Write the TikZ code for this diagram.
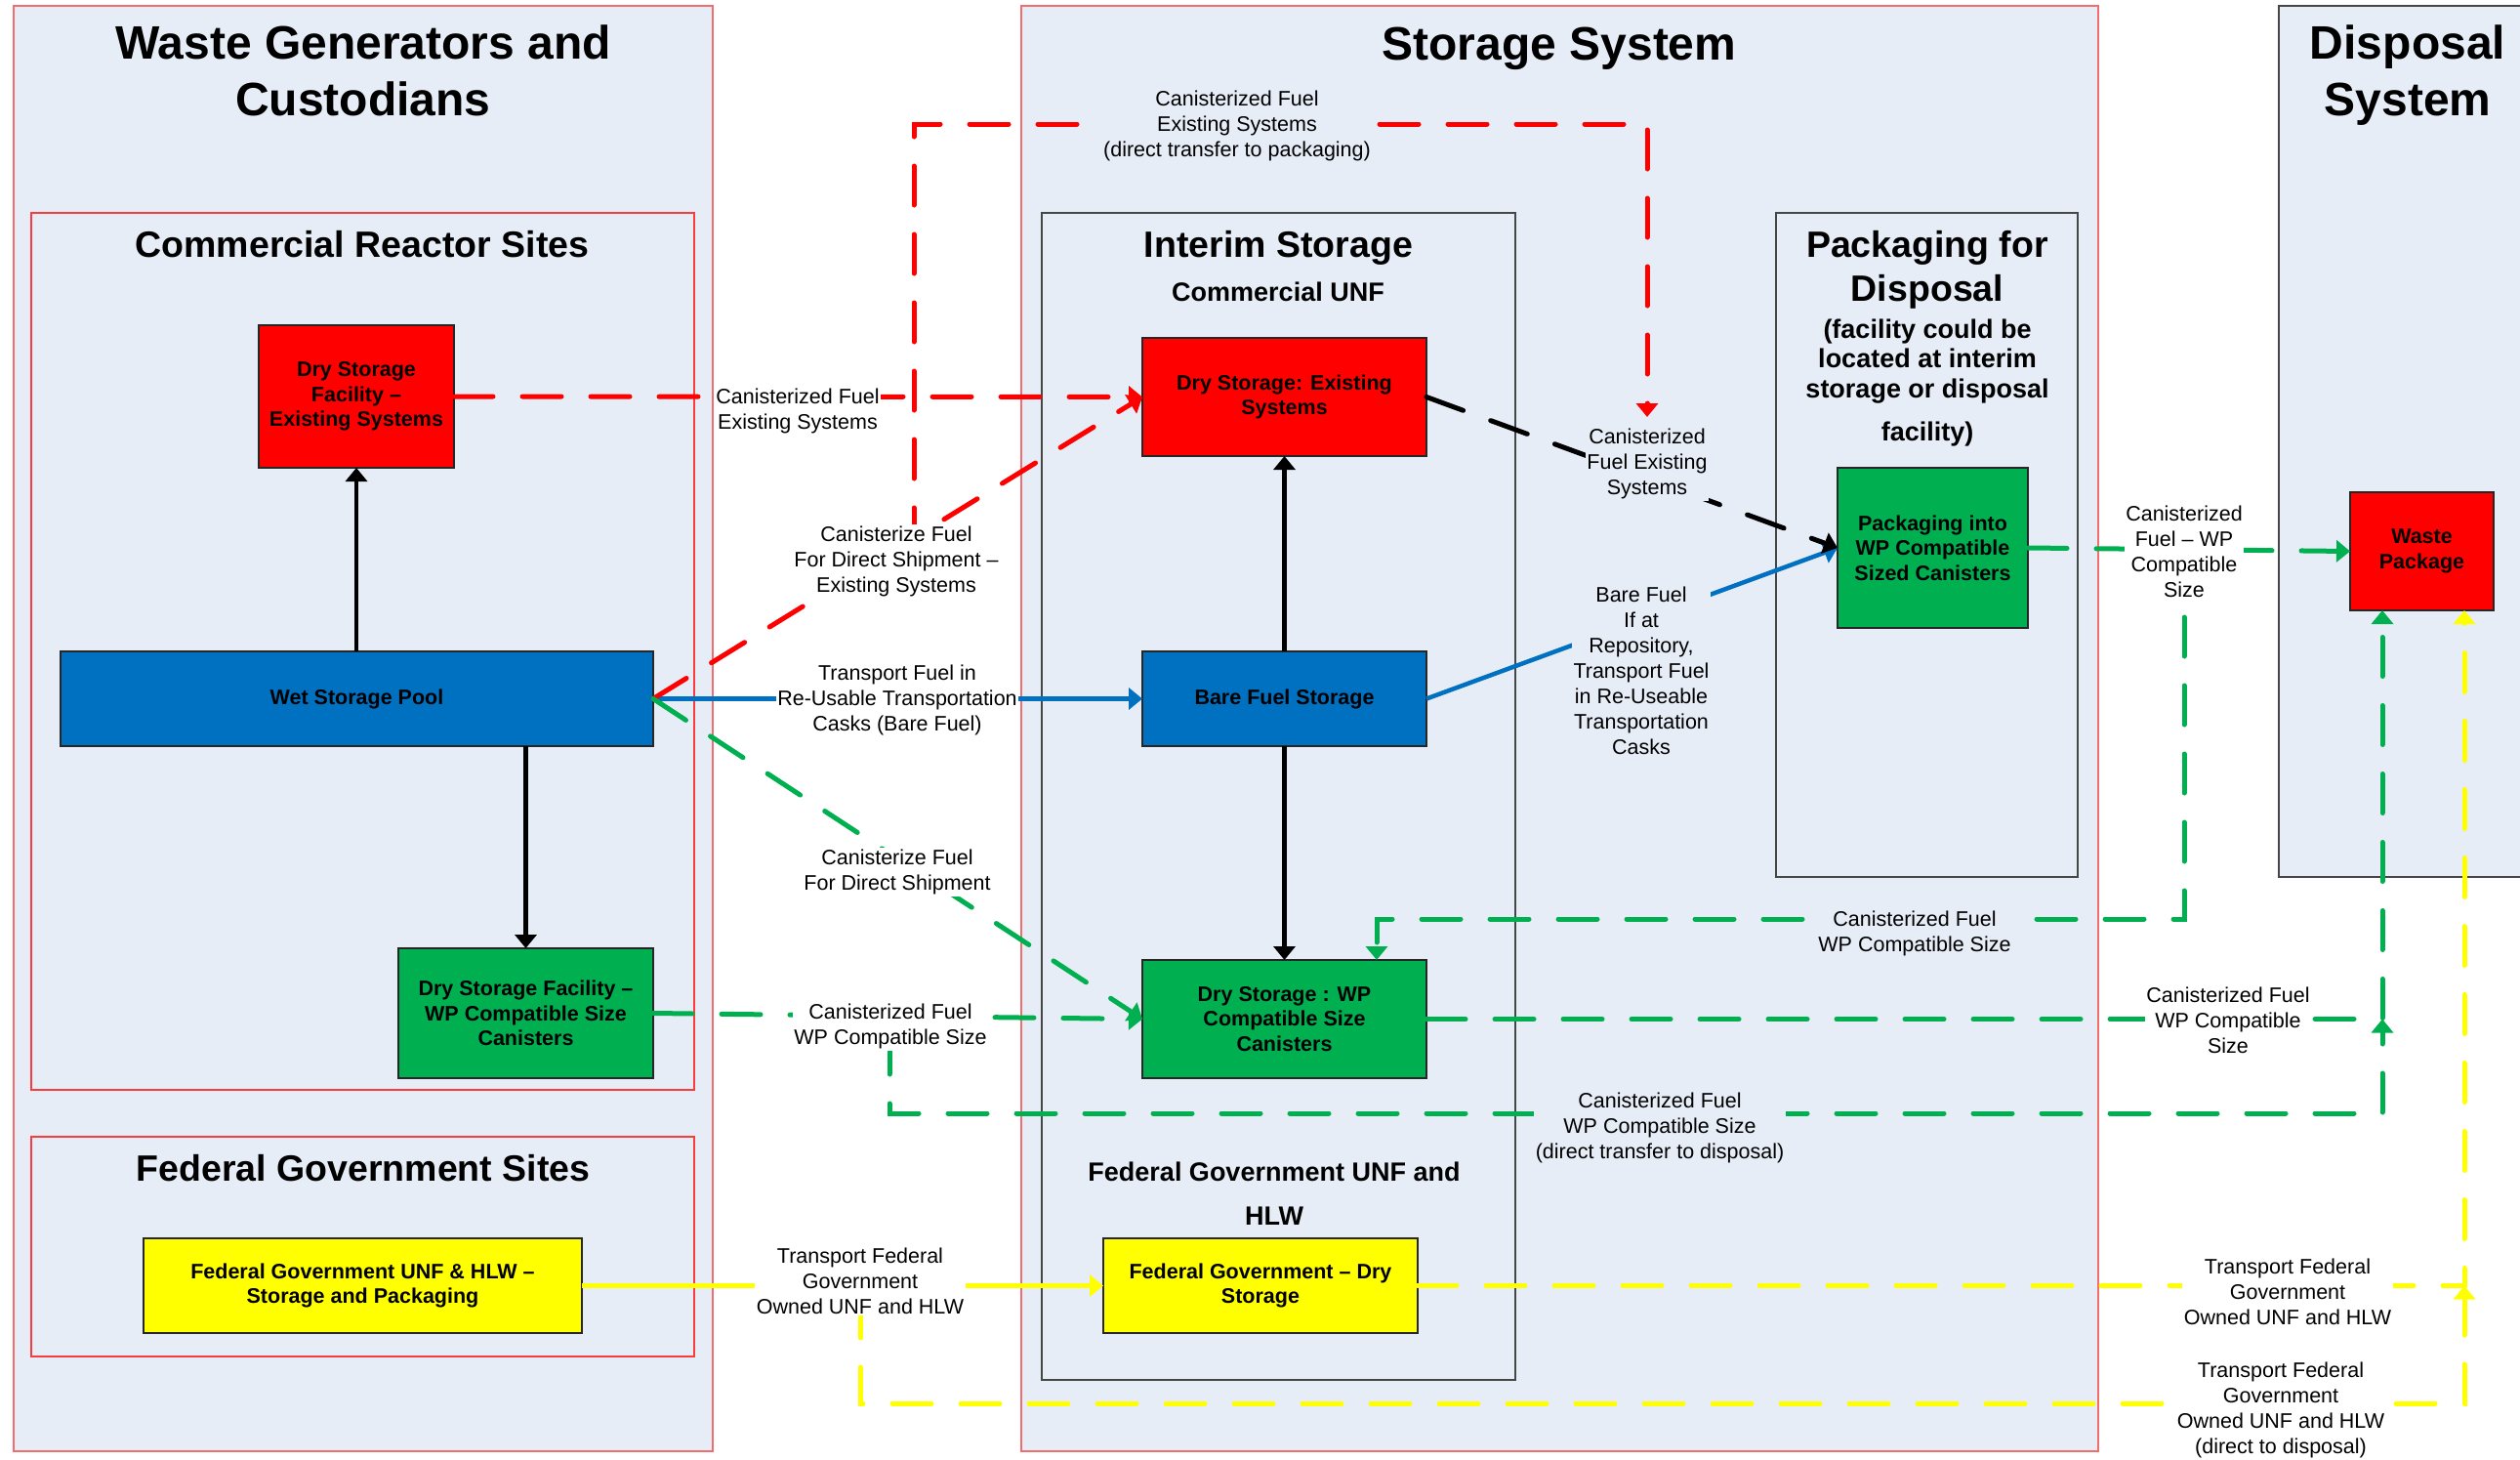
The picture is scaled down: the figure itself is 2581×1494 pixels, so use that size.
\documentclass[tikz,border=0pt]{standalone}
\usepackage{fontspec}
\setmainfont{Liberation Sans}
\usetikzlibrary{arrows.meta}

\definecolor{panel}{RGB}{230,237,247}
\definecolor{fred}{RGB}{255,0,0}
\definecolor{fgreen}{RGB}{0,176,80}
\definecolor{fblue}{RGB}{0,112,192}
\definecolor{fyellow}{RGB}{255,255,0}
\definecolor{outerred}{RGB}{242,110,110}
\definecolor{innerred}{RGB}{250,60,60}
\definecolor{framegray}{RGB}{70,70,70}

\tikzset{
  region/.style={draw=outerred, line width=2pt, fill=panel, inner sep=0pt, outer sep=0pt},
  site/.style={draw=innerred, line width=2pt, fill=panel, inner sep=0pt, outer sep=0pt},
  facility/.style={draw=framegray, line width=2pt, fill=panel, inner sep=0pt, outer sep=0pt},
  bigtitle/.style={align=center, inner sep=0pt, font={\bfseries\fontsize{48pt}{58pt}\selectfont}},
  midtitle/.style={align=center, inner sep=0pt, font={\bfseries\fontsize{37.5pt}{45pt}\selectfont}},
  smalltitle/.style={align=center, inner sep=0pt, font={\bfseries\fontsize{27pt}{30.5pt}\selectfont}},
  proc/.style={draw=black!85, line width=1.5pt, inner sep=0pt, outer sep=0pt, align=center,
               font={\bfseries\fontsize{21.5pt}{25.5pt}\selectfont}},
  lbl/.style={fill=white, inner sep=1.5pt, align=center, font={\fontsize{21.5pt}{26pt}\selectfont}},
  lblbg/.style={lbl, fill=panel},
  >={Triangle[length=14pt,width=22pt]},
  solidflow/.style={line width=4.5pt, ->},
  dashflow/.style={line width=5pt, dash pattern=on 40pt off 30pt, line cap=round, ->},
}

\begin{document}
\begin{tikzpicture}[x=1pt, y=-1pt]
\useasboundingbox (0,0) rectangle (2581,1494);
\fill[white] (0,0) rectangle (2581,1494);

% ---- regions ----
\node[region, minimum width=716pt, minimum height=1480pt] (wg) at (372,746) {};
\node[region, minimum width=1103pt, minimum height=1480pt] (ss) at (1597.5,746) {};
\node[facility, minimum width=286pt, minimum height=892pt] (dsys) at (2477,452) {};

\node[site, minimum width=679pt, minimum height=898pt] (crs) at (371.5,667) {};
\node[site, minimum width=679pt, minimum height=225pt] (fgs) at (371.5,1276.5) {};
\node[facility, minimum width=485pt, minimum height=1195pt] (ist) at (1309.5,815.5) {};
\node[facility, minimum width=309pt, minimum height=680pt] (pkg) at (1973.5,558) {};

% ---- titles ----
\node[bigtitle] (tWG) at (372,72.5) {Waste Generators and\\Custodians};
\node[bigtitle] (tSS) at (1597,50) {Storage System};
\node[bigtitle] (tDS) at (2466,77.5) {Disposal\\System};

\node[midtitle] (tCR) at (371,250) {Commercial Reactor Sites};
\node[midtitle] (tIS) at (1309.5,254) {Interim Storage};
\node[smalltitle] (tCU) at (1309,299) {Commercial UNF};
\node[midtitle] (tPK) at (1974,276.5) {Packaging for\\Disposal};
\node[smalltitle] (tPKn) at (1974,370) {(facility could be\\located at interim\\storage or disposal};
\node[smalltitle] (tPKf) at (1974,444.5) {facility)};
\node[midtitle] (tFG) at (372,1196) {Federal Government Sites};
\node[smalltitle, font={\bfseries\fontsize{27pt}{45pt}\selectfont}] (tFU) at (1305,1222.5) {Federal Government UNF and\\HLW};

% ---- process boxes ----
\node[proc, fill=fred, minimum width=200pt, minimum height=146pt] (dsfe) at (365,406) {Dry Storage\\Facility –\\Existing Systems};
\node[proc, fill=fblue, minimum width=607pt, minimum height=97pt] (wsp) at (365.5,715.5) {Wet Storage Pool};
\node[proc, fill=fgreen, minimum width=261pt, minimum height=133pt] (dsfw) at (538.5,1037.5) {Dry Storage Facility –\\WP Compatible Size\\Canisters};
\node[proc, fill=fyellow, minimum width=449pt, minimum height=97pt] (fgsp) at (371.5,1316.5) {Federal Government UNF \& HLW –\\Storage and Packaging};
\node[proc, fill=fred, minimum width=291pt, minimum height=121pt] (dse) at (1315.5,406.5) {Dry Storage: Existing\\Systems};
\node[proc, fill=fblue, minimum width=291pt, minimum height=97pt] (bfs) at (1315.5,715.5) {Bare Fuel Storage};
\node[proc, fill=fgreen, minimum width=291pt, minimum height=121pt] (dsw) at (1315.5,1043.5) {Dry Storage : WP\\Compatible Size\\Canisters};
\node[proc, fill=fyellow, minimum width=322pt, minimum height=97pt] (fgds) at (1291,1316.5) {Federal Government – Dry\\Storage};
\node[proc, fill=fgreen, minimum width=195pt, minimum height=164pt] (pwp) at (1979.5,561) {Packaging into\\WP Compatible\\Sized Canisters};
\node[proc, fill=fred, minimum width=147pt, minimum height=121pt] (wpk) at (2480.5,564.5) {Waste\\Package};

% ---- junction points ----
\coordinate (redfork) at (936,560);
\coordinate (redcorner) at (1687,127);
\coordinate (redend) at (1687,427);
\coordinate (gj) at (2440,1043.5);
\coordinate (gfork) at (911,1060);
\coordinate (gcorner) at (2440,1140);
\coordinate (pfork) at (2237,562);
\coordinate (pcorner) at (1410,941);
\coordinate (yj) at (2524,1316.5);
\coordinate (yfork) at (881,1330);
\coordinate (ycorner) at (2524,1437);

% ---- solid flows ----
\draw[solidflow] (dsfe.south |- wsp.north) -- (dsfe.south);
\draw[solidflow] (dsfw.north |- wsp.south) -- (dsfw.north);
\draw[solidflow] (bfs.north) -- (dse.south);
\draw[solidflow] (bfs.south) -- (dsw.north);
\draw[solidflow, fblue] (wsp.east) -- (bfs.west);
\draw[solidflow, fblue] (bfs.east) -- (pwp.west);
\draw[solidflow, fyellow, line width=5pt] (fgsp.east) -- (fgds.west);

% ---- dashed flows ----
\draw[dashflow, fred] (dsfe.east) -- (dse.west);
\draw[dashflow, fred] (wsp.east) -- (dse.west);
\draw[dashflow, fred] (redfork) |- (redcorner) -- (redend);
\draw[dashflow, fgreen] (wsp.east) -- (dsw.west);
\draw[dashflow, fgreen] (dsfw.east) -- (dsw.west);
\draw[dashflow, black] (dse.east) -- (pwp.west);
\draw[dashflow, fgreen] (pwp.east) -- (wpk.west);
\draw[dashflow, fgreen] (dsw.east) -- (gj) -- (gj |- wpk.south);
\draw[dashflow, fgreen] (gfork) |- (gcorner) -- (gj);
\draw[dashflow, fgreen] (pfork) |- (pcorner) -- (pcorner |- dsw.north);
\draw[dashflow, fyellow] (fgds.east) -- (yj) -- (yj |- wpk.south);
\draw[dashflow, fyellow] (yfork) |- (ycorner) -- (yj);

% ---- flow labels ----
\node[lblbg] (l1) at (1267,129) {Canisterized Fuel\\Existing Systems\\(direct transfer to packaging)};
\node[lbl] (l2) at (817,421) {Canisterized Fuel\\Existing Systems};
\node[lbl] (l3) at (918,575) {Canisterize Fuel\\For Direct Shipment –\\Existing Systems};
\node[lbl] (l4) at (919,717) {Transport Fuel in\\Re-Usable Transportation\\Casks (Bare Fuel)};
\node[lbl] (l5) at (919,893) {Canisterize Fuel\\For Direct Shipment};
\node[lbl] (l6) at (912,1051) {Canisterized Fuel\\WP Compatible Size};
\node[lbl] (l7) at (881,1312) {Transport Federal\\Government\\Owned UNF and HLW};
\node[lblbg] (l8) at (1687,475) {Canisterized\\Fuel Existing\\Systems};
\node[lblbg] (l9) at (1681,687) {Bare Fuel\\If at\\Repository,\\Transport Fuel\\in Re-Useable\\Transportation\\Casks};
\node[lbl] (l10) at (2237,565) {Canisterized\\Fuel – WP\\Compatible\\Size};
\node[lblbg] (l11) at (1961,956) {Canisterized Fuel\\WP Compatible Size};
\node[lbl] (l12) at (2282,1045) {Canisterized Fuel\\WP Compatible\\Size};
\node[lblbg] (l13) at (1700,1155) {Canisterized Fuel\\WP Compatible Size\\(direct transfer to disposal)};
\node[lbl] (l14) at (2343,1323) {Transport Federal\\Government\\Owned UNF and HLW};
\node[lbl] (l15) at (2336,1444) {Transport Federal\\Government\\Owned UNF and HLW\\(direct to disposal)};
\end{tikzpicture}
\end{document}
